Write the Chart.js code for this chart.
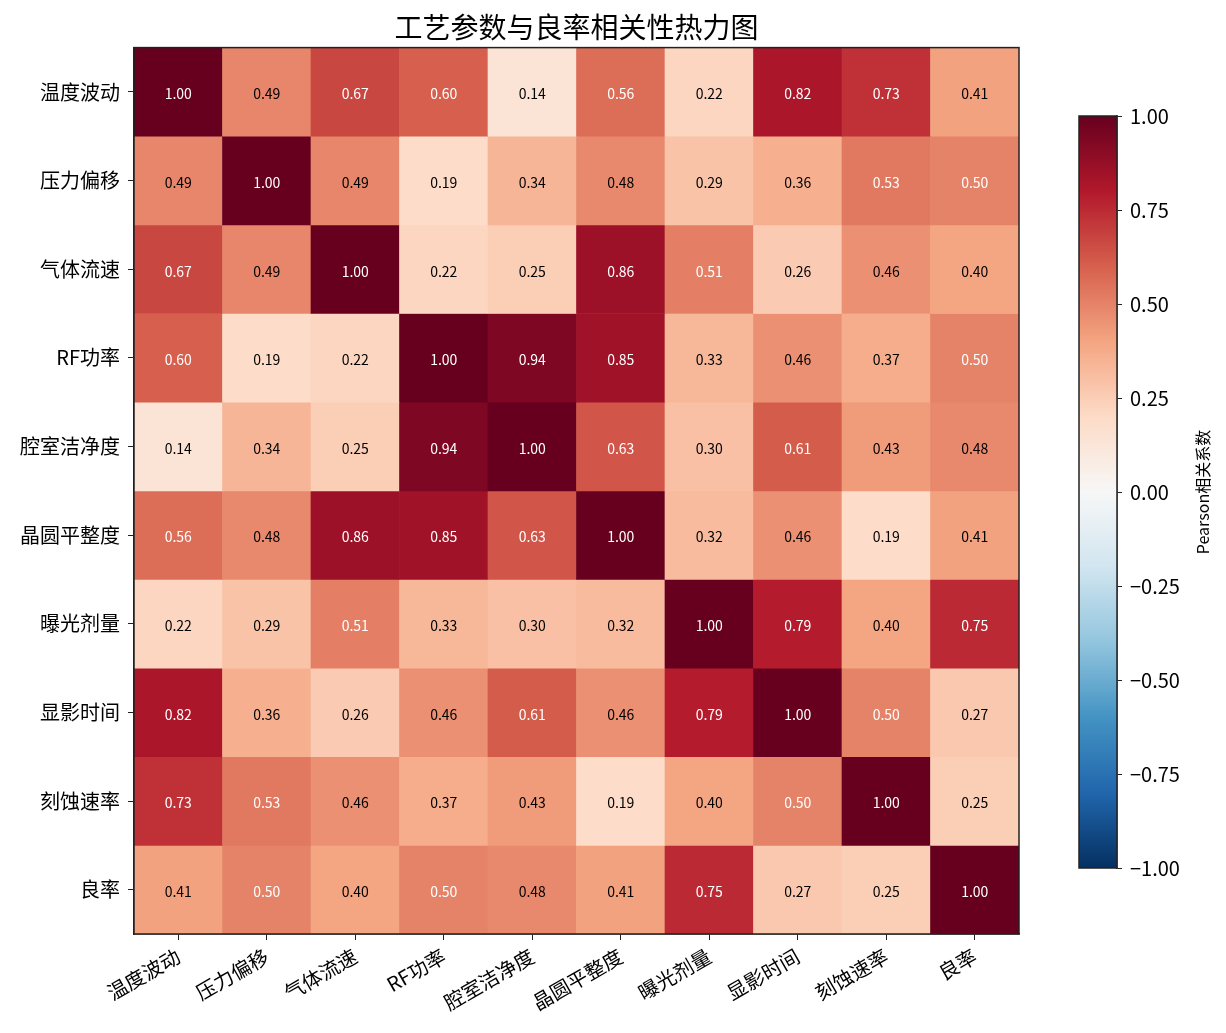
<!DOCTYPE html>
<html lang="zh-CN">
<head>
<meta charset="UTF-8">
<title>工艺参数与良率相关性热力图</title>
<script src="https://cdn.jsdelivr.net/npm/chart.js"></script>
<style>
    body { margin: 0; background: #fff; }
    .wrap { position: relative; width: 1226px; height: 1033px; }
    #heat { position: absolute; left: 0; top: 0; }
    #bar { position: absolute; left: 1040px; top: 96px; }
</style>
</head>
<body>
<div class="wrap">
    <canvas id="heat" width="1226" height="1033"></canvas>
    <canvas id="bar" width="186" height="800"></canvas>
</div>
<script>
const params = ['温度波动', '压力偏移', '气体流速', 'RF功率', '腔室洁净度', '晶圆平整度', '曝光剂量', '显影时间', '刻蚀速率', '良率'];

// 相关系数矩阵 (按行)
const r0 = [1.00, 0.49, 0.67, 0.60, 0.14, 0.56, 0.22, 0.82, 0.73, 0.41];
const r1 = [0.49, 1.00, 0.49, 0.19, 0.34, 0.48, 0.29, 0.36, 0.53, 0.50];
const r2 = [0.67, 0.49, 1.00, 0.22, 0.25, 0.86, 0.51, 0.26, 0.46, 0.40];
const r3 = [0.60, 0.19, 0.22, 1.00, 0.94, 0.85, 0.33, 0.46, 0.37, 0.50];
const r4 = [0.14, 0.34, 0.25, 0.94, 1.00, 0.63, 0.30, 0.61, 0.43, 0.48];
const r5 = [0.56, 0.48, 0.86, 0.85, 0.63, 1.00, 0.32, 0.46, 0.19, 0.41];
const r6 = [0.22, 0.29, 0.51, 0.33, 0.30, 0.32, 1.00, 0.79, 0.40, 0.75];
const r7 = [0.82, 0.36, 0.26, 0.46, 0.61, 0.46, 0.79, 1.00, 0.50, 0.27];
const r8 = [0.73, 0.53, 0.46, 0.37, 0.43, 0.19, 0.40, 0.50, 1.00, 0.25];
const r9 = [0.41, 0.50, 0.40, 0.50, 0.48, 0.41, 0.75, 0.27, 0.25, 1.00];
const corr = [r0, r1, r2, r3, r4, r5, r6, r7, r8, r9];

const cbTicks = [-1, -0.75, -0.5, -0.25, 0, 0.25, 0.5, 0.75, 1];

const FONT = '"Noto Sans CJK SC", "Noto Sans", sans-serif';

// RdBu_r 色带
const cmap = ['#053061', '#2166ac', '#4393c3', '#92c5de', '#d1e5f0', '#f7f7f7',
              '#fddbc7', '#f4a582', '#d6604d', '#b2182b', '#67001f'];

function hexRgb(h) {
    return [parseInt(h.slice(1, 3), 16), parseInt(h.slice(3, 5), 16), parseInt(h.slice(5, 7), 16)];
}

function colorOf(v) {
    const t = Math.min(1, Math.max(0, (v + 1) / 2)) * (cmap.length - 1);
    const i = Math.min(cmap.length - 2, Math.floor(t));
    const f = t - i;
    const a = hexRgb(cmap[i]), b = hexRgb(cmap[i + 1]);
    const c = a.map((x, k) => Math.round(x + (b[k] - x) * f));
    return `rgb(${c[0]},${c[1]},${c[2]})`;
}

const cellText = {
    id: 'cellText',
    afterDatasetsDraw(chart) {
        const ctx = chart.ctx;
        ctx.save();
        ctx.font = '14px ' + FONT;
        ctx.textAlign = 'center';
        ctx.textBaseline = 'middle';
        chart.data.datasets.forEach((ds, i) => {
            chart.getDatasetMeta(i).data.forEach((bar, j) => {
                const v = corr[i][j];
                const p = bar.getProps(['x', 'y', 'base'], true);
                ctx.fillStyle = v >= 0.5 ? '#fff' : '#000';
                ctx.fillText(v.toFixed(2), p.x, (p.y + p.base) / 2 + 2);
            });
        });
        ctx.restore();
    }
};

const frame = {
    id: 'frame',
    afterDraw(chart) {
        const a = chart.chartArea, ctx = chart.ctx;
        ctx.save();
        ctx.strokeStyle = '#222';
        ctx.lineWidth = 1.5;
        ctx.strokeRect(a.left, a.top, a.right - a.left, a.bottom - a.top);
        ctx.restore();
    }
};

new Chart(document.getElementById('heat'), {
    type: 'bar',
    data: {
        labels: params,
        datasets: corr.map((row, i) => ({
            label: params[i],
            data: row.map(() => [i, i + 1]),
            backgroundColor: row.map(colorOf),
            borderWidth: 0,
            grouped: false,
            barPercentage: 1,
            categoryPercentage: 1
        }))
    },
    options: {
        responsive: false,
        animation: false,
        layout: { padding: { left: 0, right: 207, top: 0, bottom: 0 } },
        plugins: {
            legend: { display: false },
            tooltip: { enabled: false },
            title: {
                display: true,
                fullSize: false,
                text: '工艺参数与良率相关性热力图',
                color: '#000',
                font: { family: FONT, size: 28, weight: 'normal' },
                padding: { top: 11, bottom: 3 }
            }
        },
        scales: {
            x: {
                type: 'category',
                offset: true,
                grid: { offset: false, drawOnChartArea: false, drawTicks: true, tickLength: 6, color: '#222' },
                border: { display: true, color: '#222', width: 1.5 },
                ticks: {
                    autoSkip: false, minRotation: 30, maxRotation: 30, padding: 4,
                    color: '#000', font: { family: FONT, size: 20 }
                },
                afterFit(s) { s.height = 1033 - 934; }
            },
            y: {
                type: 'linear',
                min: 0,
                max: params.length,
                reverse: true,
                afterBuildTicks(s) { s.ticks = params.map((_, i) => ({ value: i + 0.5 })); },
                grid: { drawOnChartArea: false, drawTicks: true, tickLength: 6, color: '#222' },
                border: { display: true, color: '#222', width: 1.5 },
                ticks: {
                    autoSkip: false, padding: 8, color: '#000',
                    font: { family: FONT, size: 20 },
                    callback: v => params[Math.floor(v)]
                },
                afterFit(s) { s.width = 134; }
            }
        }
    },
    plugins: [cellText, frame]
});

// 色条
const cbLabel = {
    id: 'cbLabel',
    afterDraw(chart) {
        const ctx = chart.ctx;
        ctx.save();
        ctx.translate(163, 396);
        ctx.rotate(-Math.PI / 2);
        ctx.font = '16px ' + FONT;
        ctx.fillStyle = '#000';
        ctx.textAlign = 'center';
        ctx.textBaseline = 'middle';
        ctx.fillText('Pearson相关系数', 0, 0);
        ctx.restore();
    }
};

new Chart(document.getElementById('bar'), {
    type: 'bar',
    data: {
        labels: ['r'],
        datasets: [{
            data: [[cbTicks[0], cbTicks[cbTicks.length - 1]]],
            borderWidth: 0,
            barPercentage: 1,
            categoryPercentage: 1,
            backgroundColor(c) {
                const a = c.chart.chartArea;
                if (!a) return '#ccc';
                const g = c.chart.ctx.createLinearGradient(0, a.bottom, 0, a.top);
                cmap.forEach((col, k) => g.addColorStop(k / (cmap.length - 1), col));
                return g;
            }
        }]
    },
    options: {
        responsive: false,
        animation: false,
        layout: { padding: { left: 39, right: 0, top: 20, bottom: 28 } },
        plugins: { legend: { display: false }, tooltip: { enabled: false } },
        scales: {
            x: { display: false, offset: true },
            y: {
                position: 'right',
                min: -1,
                max: 1,
                afterBuildTicks(s) { s.ticks = cbTicks.map(v => ({ value: v })); },
                grid: { drawOnChartArea: false, drawTicks: true, tickLength: 5, color: '#222' },
                border: { display: true, color: '#222', width: 1.5 },
                ticks: {
                    padding: 8, color: '#000',
                    font: { family: FONT, size: 20 },
                    callback: v => (v < 0 ? '\u2212' : '') + Math.abs(v).toFixed(2)
                },
                afterFit(s) { s.width = 186 - 77; }
            }
        }
    },
    plugins: [frame, cbLabel]
});
</script>
</body>
</html>
